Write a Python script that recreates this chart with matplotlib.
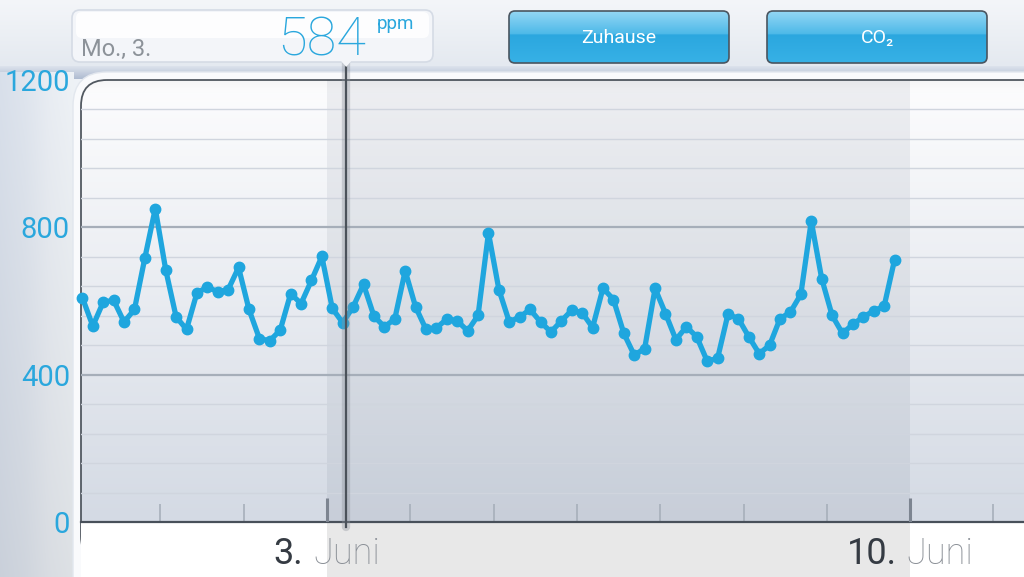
# CO2 history screen - one week of readings, 3-hourly
import numpy as np
import matplotlib
matplotlib.use("Agg")
import matplotlib.pyplot as plt
from matplotlib.patches import FancyBboxPatch, Polygon
from matplotlib.transforms import offset_copy
from matplotlib.colors import to_rgb

# readings in ppm, one every 3 hours
co2_ppm = [609, 532, 597, 602, 543, 577, 717, 851, 685, 557,
           523, 622, 638, 625, 631, 691, 577, 498, 492, 521,
           620, 593, 656, 721, 580, 541, 584, 645, 559, 530,
           551, 682, 584, 523, 527, 551, 546, 519, 561, 785,
           631, 543, 557, 577, 543, 516, 546, 575, 568, 528,
           635, 604, 512, 453, 471, 634, 566, 495, 530, 503,
           437, 444, 564, 552, 503, 457, 480, 552, 570, 618,
           817, 661, 561, 512, 537, 557, 573, 586, 712]
first_hour = -70.5          # hours relative to 3. Juni 00:00
step_hours = 3

day_ticks = [-48, -24, 0, 24, 48, 72, 96, 120, 144, 168, 192]
major_ticks = [0, 168]
major_days = ["3", "10"]
month_name = "Juni"

y_major = [0, 400, 800, 1200]
y_minor = [80, 160, 240, 320, 480, 560, 640, 720, 880, 960, 1040, 1120]

cursor_hour = 5.5
cursor_value = 584
cursor_day = "Mo., 3."
buttons = ["Zuhause", "CO₂"]

BLUE = "#1fa6de"
LABEL_BLUE = "#2aa7dd"
FONT = ["Roboto", "DejaVu Sans"]
plt.rcParams["font.family"] = FONT

W, H = 1024, 577
fig = plt.figure(figsize=(W / 100, H / 100), dpi=100)
fig.patch.set_facecolor("#edf1f6")

# pixel based layout
PL, PR, PT, PB = 81, 1024, 80, 522


def vgrad(c_top, c_bot, n=256):
    a, b = np.array(to_rgb(c_top)), np.array(to_rgb(c_bot))
    t = np.linspace(0, 1, n)[:, None]
    return (a + (b - a) * t)[:, None, :]


def hgrad(colors, n=64):
    stops = [np.array(to_rgb(c)) for c in colors]
    out = np.zeros((1, n, 3))
    for j in range(n):
        k = j / (n - 1) * (len(stops) - 1)
        i0 = min(int(k), len(stops) - 2)
        f = k - i0
        out[0, j] = stops[i0] * (1 - f) + stops[i0 + 1] * f
    return out


# ---------- background layer ----------
bg = fig.add_axes([0, 0, 1, 1], zorder=0)
bg.set_xlim(0, W)
bg.set_ylim(H, 0)
bg.axis("off")

# header
bg.imshow(vgrad("#f4f6f9", "#e4e9f0"), extent=(0, W, 66, 0), aspect="auto", zorder=0)
bg.imshow(vgrad("#dde3ed", "#aebbd0"), extent=(0, W, 79, 66), aspect="auto", zorder=0)
# left strip, a bit darker towards the bottom
strip = hgrad(["#d9e0eb", "#dfe5ee", "#e9edf3", "#eef2f6"]).repeat(80, axis=0)
strip = strip * (1 - 0.07 * np.linspace(0, 1, 80))[:, None, None]
bg.imshow(strip, extent=(0, 74, H, 72), aspect="auto", zorder=0)
# white border round the panel
bg.add_patch(FancyBboxPatch((73, 72), W, H, boxstyle="round,pad=0,rounding_size=34",
                            fc="#f9fafc", ec="#e2e7ee", lw=1, zorder=1))
# plot panel gradient, clipped to rounded corner
img = bg.imshow(vgrad("#fdfdfe", "#d4dae4"), extent=(PL, W, PB, PT), aspect="auto",
                zorder=2)
panel = FancyBboxPatch((PL, PT), W + 40, PB - PT + 40, boxstyle="round,pad=0,rounding_size=26",
                       fc="none", ec="#525961", lw=1.3, zorder=3)
bg.add_patch(panel)
img.set_clip_path(panel)
# soft shadow under header bar, inside the panel
shadow = np.zeros((24, 1, 4))
shadow[:, 0, 3] = np.linspace(0.07, 0, 24) ** 1.3
sh = bg.imshow(shadow, extent=(PL, W, PT + 16, PT), aspect="auto", zorder=3)
sh.set_clip_path(panel)
# bottom strip (white)
bg.fill_between([PL, W], PB, H, color="white", lw=0, zorder=4)
bg.set_xlim(0, W)
bg.set_ylim(H, 0)

# ---------- chart ----------
ax = fig.add_axes([PL / W, (H - PB) / H, (PR - PL) / W, (PB - PT) / H], zorder=2)
ax.patch.set_alpha(0)
xlim = (first_hour - 0.4, first_hour - 0.4 + (PR - PL) / 83.3 * 24)
ax.set_xlim(*xlim)
ax.set_ylim(0, 1200)

hours = first_hour + step_hours * np.arange(len(co2_ppm))

for v in y_minor:
    ax.axhline(v, color="#d0d5de", lw=1, zorder=1)
for v in y_major[1:-1]:
    ax.axhline(v, color="#a6aeb9", lw=1.6, zorder=1)

# highlighted week
ax.axvspan(major_ticks[0], major_ticks[1], color="#34445c", alpha=0.075, lw=0, zorder=0)

ax.plot(hours, co2_ppm, color=BLUE, lw=3.8, marker="o", ms=7.5,
        solid_joinstyle="round", zorder=4, clip_on=False)

for s in ["top", "right", "left"]:
    ax.spines[s].set_visible(False)
ax.spines["bottom"].set_color("#48505a")
ax.spines["bottom"].set_linewidth(1.6)

ax.set_yticks(y_major)
ax.set_yticklabels([str(v) for v in y_major], color=LABEL_BLUE, fontsize=21)
ax.tick_params(axis="y", length=0, pad=8)
ax.set_xticks(day_ticks)
ax.set_xticklabels([])
ax.tick_params(axis="x", direction="in", length=13, width=1.2, color="#a7afba")
for t in major_ticks:
    ax.plot([t, t], [0, 0.055], transform=ax.get_xaxis_transform(),
            color="#7d8591", lw=2.2, zorder=3, solid_capstyle="butt")

# cursor
ax.axvline(cursor_hour, ymin=-0.012, ymax=1.04, color="#8a9099", lw=6, alpha=0.35,
           clip_on=False, zorder=5, solid_capstyle="round")
ax.axvline(cursor_hour, ymin=-0.012, ymax=1.04, color="#4b525a", lw=1.6,
           clip_on=False, zorder=6)

# ---------- date strip ----------
axb = fig.add_axes([PL / W, 0, (PR - PL) / W, (H - PB) / H], zorder=1)
axb.set_xlim(*xlim)
axb.set_ylim(0, 1)
axb.axis("off")
axb.axvspan(major_ticks[0], major_ticks[1], color="#e8e8e8", lw=0)

fig.canvas.draw()
rend = fig.canvas.get_renderer()
for t, d in zip(major_ticks, major_days):
    t1 = axb.text(t, 0.24, d + ".", fontsize=26, fontweight="normal", color="#353b43",
                  ha="left", va="baseline")
    t2 = axb.text(t, 0.24, month_name, fontsize=26, fontweight="light", color="#8b9097",
                  ha="left", va="baseline")
    w1 = t1.get_window_extent(rend).width
    w2 = t2.get_window_extent(rend).width
    gap = 10
    total = w1 + gap + w2
    t1.set_transform(offset_copy(axb.transData, fig=fig, x=-total / 2, y=0, units="dots"))
    t2.set_transform(offset_copy(axb.transData, fig=fig, x=-total / 2 + w1 + gap, y=0,
                                 units="dots"))

# ---------- header overlay ----------
ov = fig.add_axes([0, 0, 1, 1], zorder=3)
ov.set_xlim(0, W)
ov.set_ylim(H, 0)
ov.axis("off")

cx = ax.transData.transform((cursor_hour, 0))[0]
ov.add_patch(FancyBboxPatch((72, 10), 361, 52, boxstyle="round,pad=0,rounding_size=8",
                            fc="#f3f5f9", ec="#d5dbe5", lw=1.2))
ov.add_patch(FancyBboxPatch((76, 12), 353, 26, boxstyle="round,pad=0,rounding_size=6",
                            fc="white", ec="none", alpha=0.85))
ov.add_patch(Polygon([[cx - 5, 61], [cx + 5, 61], [cx, 67]], closed=True,
                     fc="#f3f5f9", ec="none"))
ov.text(81, 56, cursor_day, fontsize=17, color="#8c9299", ha="left", va="baseline")
ov.text(277, 56, str(cursor_value), fontsize=39, color=LABEL_BLUE, fontweight="light",
        ha="left", va="baseline")
ov.text(377, 29, "ppm", fontsize=13.5, color=LABEL_BLUE, ha="left", va="baseline")

for (x0, label) in zip([509, 767], buttons):
    box = FancyBboxPatch((x0, 11), 220, 52, boxstyle="round,pad=0,rounding_size=6",
                         fc="none", ec="#4a5560", lw=1.2, zorder=3)
    ov.add_patch(box)
    g = np.concatenate([vgrad("#94d6f4", "#4cb9e8", 45), vgrad("#2ba7df", "#37b1e6", 55)])
    im = ov.imshow(g, extent=(x0, x0 + 220, 63, 11), aspect="auto", zorder=2)
    im.set_clip_path(box)
    ov.text(x0 + 110, 38, label, fontsize=14, color="white", ha="center", va="center",
            zorder=4)
ov.set_xlim(0, W)
ov.set_ylim(H, 0)

fig.savefig("out.png", dpi=100, facecolor=fig.get_facecolor())
